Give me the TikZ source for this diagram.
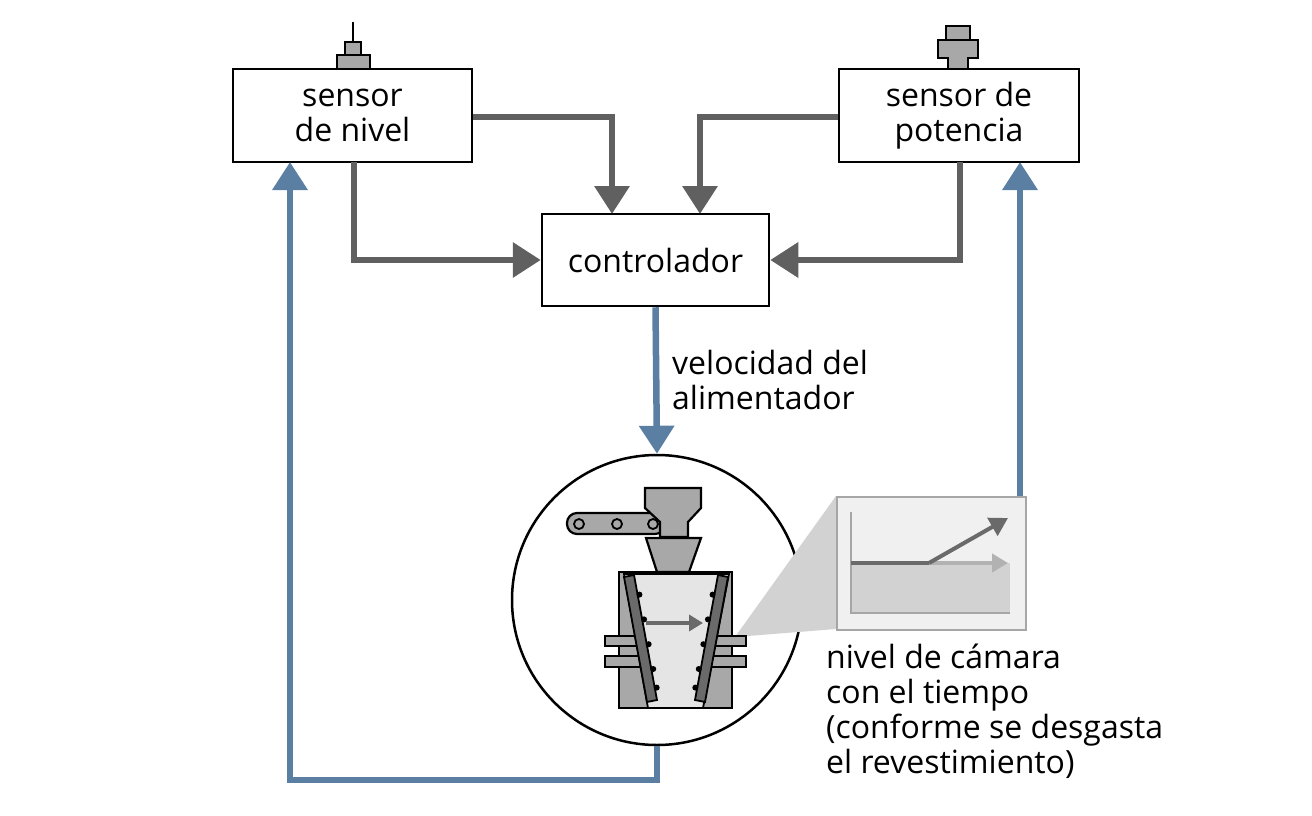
\documentclass[tikz,border=0pt]{standalone}
\usepackage{fontspec}
\setmainfont{Open Sans}
\usetikzlibrary{arrows.meta,calc}
\definecolor{gline}{HTML}{606060}
\definecolor{bline}{HTML}{5B7FA3}
\definecolor{mgray}{HTML}{A8A8A8}
\definecolor{dgray}{HTML}{6A6A6A}
\begin{document}
\begin{tikzpicture}[x=1pt,y=-1pt,
  box/.style={draw=black,line width=2.5pt,fill=white,align=center,inner sep=0pt,font=\fontsize{32}{35}\selectfont},
  garr/.style={draw=gline,line width=6.5pt,-{Triangle[length=28pt,width=34pt]}},
  barr/.style={draw=bline,line width=6.5pt,-{Triangle[length=28pt,width=34pt]}},
  part/.style={draw=black,line width=2.2pt,fill=mgray},
  lbl/.style={font=\fontsize{32}{35}\selectfont,align=left,anchor=north west,inner sep=0pt}]
\useasboundingbox (0,0) rectangle (1312,816);
% nubs
\draw[line width=1.8pt] (353,22) -- (353,42);
\draw[part] (345,42) rectangle (361,55);
\draw[part] (337,55) rectangle (370,69);
\draw[part] (946,26) rectangle (970,40);
\draw[part] (938,40) -- (978,40) -- (978,58) -- (968,58) -- (968,69) -- (948,69) -- (948,58) -- (938,58) -- cycle;
% boxes
\node[box,minimum width=239pt,minimum height=93pt] (niv) at (352.5,115.5) {sensor\\de nivel};
\node[box,minimum width=240pt,minimum height=93pt] (pot) at (959,115.5) {sensor de\\potencia};
\node[box,minimum width=227pt,minimum height=92pt] (ctl) at (655.5,260) {controlador};
% crusher circle
\node[circle,draw=black,line width=2.5pt,minimum size=290pt,inner sep=0pt] (cr) at (657,600) {};
% chart
\fill[gray!35] (735,637) -- (836,496) -- (836,629) -- cycle;
\node[draw=gray!70,line width=2pt,fill=gray!12,minimum width=189pt,minimum height=133pt,inner sep=0pt,anchor=north west] (ch) at (836,496) {};
\fill[gray!35] (851,563) rectangle (1010,613);
\draw[gray!70,line width=1.5pt] (851,512) -- (851,613) -- (1010,613);
\draw[gray!60,line width=4pt,-{Triangle[length=16pt,width=18pt]}] (929,563) -- (1008,563);
\draw[dgray,line width=4pt] (851,563) -- (929,563);
\draw[dgray,line width=4pt,-{Triangle[length=18pt,width=20pt]}] (929,563) -- (1008,518);
% crusher drawing
\draw[part,rounded corners=10pt] (567,513) rectangle (665,534);
\foreach \x in {579,617,653} \draw[line width=1.8pt,fill=mgray] (\x,524) circle (5);
\draw[part] (645,488) -- (701,488) -- (701,508) -- (688,522) -- (688,537) -- (660,537) -- (660,522) -- (645,508) -- cycle;
\draw[part] (646,538) -- (701,538) -- (689,572) -- (657,572) -- cycle;
\draw[part] (619,572) rectangle (732,708);
\draw[part] (605,636) rectangle (746,646);
\draw[part] (605,656) rectangle (746,667);
\fill[mgray] (620,647) rectangle (731,655);
\draw[draw=black,line width=1.8pt,fill=gray!20] (624,574) -- (729,574) -- (703,708) -- (648,708) -- cycle;
\draw[black,line width=1.8pt,fill=dgray] (624,577) -- (634,575) -- (657,700) -- (647,702) -- cycle;
\draw[black,line width=1.8pt,fill=dgray] (728,577) -- (718,575) -- (695,700) -- (705,702) -- cycle;
\foreach \t in {0.15,0.35,0.55,0.75,0.9} {
  \fill ($(636,576)!\t!(659,700)$) circle (3);
  \fill ($(716,576)!\t!(693,700)$) circle (3);
}
\draw[dgray,line width=3.5pt,-{Triangle[length=14pt,width=16pt]}] (646,623) -- (703,623);
% grey arrows
\draw[garr] (niv.east |- 0,117) -| (612,214);
\draw[garr] (pot.west |- 0,117) -| (700,214);
\draw[garr] (354,162) |- (ctl.west);
\draw[garr] (960,162) |- (ctl.east);
% blue arrows
\draw[barr] (ctl.south) -- (cr.north);
\draw[barr] (cr.south) -- (657,780) -| (290,162);
\draw[barr] (ch.north -| 1020,0) -- (1020,162);
% labels
\node[lbl] (vel) at (672,350) {velocidad del\\alimentador};
\node[lbl] (niv2) at (826,644) {nivel de cámara\\con el tiempo\\(conforme se desgasta\\el revestimiento)};
\end{tikzpicture}
\end{document}
